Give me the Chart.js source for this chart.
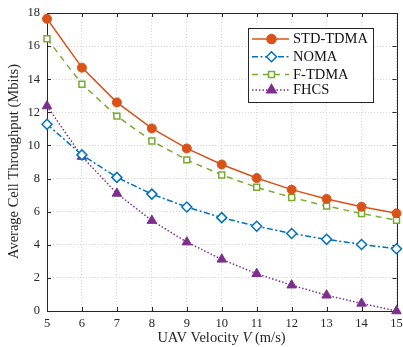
<!DOCTYPE html>
<html>
<head>
<meta charset="utf-8">
<script src="https://cdn.jsdelivr.net/npm/chart.js@4.4.1/dist/chart.umd.min.js"></script>
<style>
  html, body { margin: 0; padding: 0; background: #fff; }
  #wrap { width: 403px; height: 347px; }
</style>
</head>
<body>
<div id="wrap"><canvas id="throughputChart" width="403" height="347"></canvas></div>
<script>
const velocities = [5, 6, 7, 8, 9, 10, 11, 12, 13, 14, 15];
const stdTdma = [17.65, 14.7, 12.6, 11.03, 9.82, 8.85, 8.03, 7.33, 6.77, 6.3, 5.9];
const noma = [11.28, 9.43, 8.07, 7.06, 6.28, 5.64, 5.12, 4.68, 4.33, 4.02, 3.76];
const fTdma = [16.45, 13.7, 11.77, 10.27, 9.13, 8.22, 7.47, 6.86, 6.34, 5.89, 5.48];
const fhcs = [12.38, 9.33, 7.1, 5.46, 4.16, 3.12, 2.25, 1.56, 0.95, 0.46, 0.0];
const xTicks = [5, 6, 7, 8, 9, 10, 11, 12, 13, 14, 15];
const yTicks = [0, 2, 4, 6, 8, 10, 12, 14, 16, 18];

const serif = "'Liberation Serif', 'Times New Roman', serif";
const inkColor = "#262626";

function toPoints(values) {
  return values.map((v, i) => ({ x: velocities[i], y: v }));
}

// box around the axes plus inward tick marks (MATLAB look)
const boxPlugin = {
  id: "boxPlugin",
  beforeDatasetsDraw(chart) {
    const { ctx, chartArea: a, scales } = chart;
    ctx.save();
    ctx.strokeStyle = inkColor;
    ctx.lineWidth = 1;
    ctx.beginPath();
    xTicks.forEach((t) => {
      const px = Math.round(scales.x.getPixelForValue(t)) + 0.5;
      ctx.moveTo(px, a.bottom);
      ctx.lineTo(px, a.bottom - 4);
      ctx.moveTo(px, a.top);
      ctx.lineTo(px, a.top + 4);
    });
    yTicks.forEach((t) => {
      const py = Math.round(scales.y.getPixelForValue(t)) + 0.5;
      ctx.moveTo(a.left, py);
      ctx.lineTo(a.left + 4, py);
      ctx.moveTo(a.right, py);
      ctx.lineTo(a.right - 4, py);
    });
    ctx.stroke();
    ctx.strokeRect(Math.round(a.left) + 0.5, Math.round(a.top) + 0.5,
      Math.round(a.right - a.left), Math.round(a.bottom - a.top));
    ctx.restore();
  },
  afterDraw(chart) {
    const { ctx, chartArea: a } = chart;
    ctx.save();
    ctx.fillStyle = inkColor;

    // y axis title
    ctx.font = "14.5px " + serif;
    ctx.textAlign = "center";
    ctx.textBaseline = "middle";
    ctx.translate(14, 161.5);
    ctx.rotate(-Math.PI / 2);
    ctx.fillText("Average Cell Throughput (Mbits)", 0, 0);
    ctx.setTransform(1, 0, 0, 1, 0, 0);

    // x axis title, with italic V
    const parts = [
      { t: "UAV Velocity ", f: "14.5px " + serif },
      { t: "V", f: "italic 14.5px " + serif },
      { t: " (m/s)", f: "14.5px " + serif },
    ];
    let total = 0;
    parts.forEach((p) => { ctx.font = p.f; p.w = ctx.measureText(p.t).width; total += p.w; });
    let x = 221.5 - total / 2;
    ctx.textAlign = "left";
    ctx.textBaseline = "middle";
    parts.forEach((p) => { ctx.font = p.f; ctx.fillText(p.t, x, 338.5); x += p.w; });

    // legend inside the axes
    const lx = 248, ly = 28, lw = 125, lh = 74;
    ctx.fillStyle = "#fff";
    ctx.fillRect(lx, ly, lw, lh);
    ctx.strokeStyle = inkColor;
    ctx.lineWidth = 1;
    ctx.strokeRect(lx + 0.5, ly + 0.5, lw, lh);
    const rows = [39, 56.7, 74.5, 90];
    chart.data.datasets.forEach((ds, i) => {
      const y = rows[i];
      ctx.strokeStyle = ds.borderColor;
      ctx.lineWidth = ds.borderWidth;
      ctx.setLineDash(ds.borderDash || []);
      ctx.beginPath();
      ctx.moveTo(252, y);
      ctx.lineTo(289, y);
      ctx.stroke();
      ctx.setLineDash([]);
      ctx.fillStyle = ds.pointBackgroundColor;
      ctx.strokeStyle = ds.borderColor;
      Chart.helpers.drawPoint(ctx, {
        pointStyle: ds.pointStyle,
        radius: ds.pointRadius,
        borderWidth: ds.pointBorderWidth,
        rotation: 0,
      }, 271.5, y);
      ctx.fillStyle = "#111";
      ctx.font = "14.5px " + serif;
      ctx.textAlign = "left";
      ctx.textBaseline = "middle";
      ctx.fillText(ds.label, 293, y + 0.5);
    });
    ctx.restore();
  },
};

const ctx = document.getElementById("throughputChart");
new Chart(ctx, {
  type: "line",
  data: {
    datasets: [
      {
        label: "STD-TDMA",
        data: toPoints(stdTdma),
        borderColor: "#D95319",
        pointBackgroundColor: "#D95319",
        pointStyle: "circle",
        pointRadius: 4.5,
        pointBorderWidth: 1,
        borderWidth: 1.5,
        borderDash: [],
      },
      {
        label: "NOMA",
        data: toPoints(noma),
        borderColor: "#0072BD",
        pointBackgroundColor: "#fff",
        pointStyle: "rectRot",
        pointRadius: 5,
        pointBorderWidth: 1.5,
        borderWidth: 1.5,
        borderDash: [6, 2.5, 2, 2.5],
      },
      {
        label: "F-TDMA",
        data: toPoints(fTdma),
        borderColor: "#77AC30",
        pointBackgroundColor: "#fff",
        pointStyle: "rect",
        pointRadius: 4.2,
        pointBorderWidth: 1.5,
        borderWidth: 1.5,
        borderDash: [6, 5],
      },
      {
        label: "FHCS",
        data: toPoints(fhcs),
        borderColor: "#7E2F8E",
        pointBackgroundColor: "#7E2F8E",
        pointStyle: "triangle",
        pointRadius: 5.5,
        pointBorderWidth: 1,
        borderWidth: 1.5,
        borderDash: [1.5, 2],
      },
    ].map((d) => Object.assign(d, {
      backgroundColor: d.pointBackgroundColor,
      pointBorderColor: d.borderColor,
      pointHoverRadius: d.pointRadius,
      tension: 0,
      fill: false,
      clip: false,
    })),
  },
  options: {
    responsive: false,
    animation: false,
    events: [],
    layout: { padding: { top: 13, right: 2, left: 0, bottom: 0 } },
    plugins: {
      legend: { display: false },
      tooltip: { enabled: false },
    },
    scales: {
      x: {
        type: "linear",
        min: 5,
        max: 15,
        afterBuildTicks: (scale) => { scale.ticks = xTicks.map((v) => ({ value: v })); },
        afterFit: (scale) => { scale.height = 36; scale.paddingLeft = 0; scale.paddingRight = 0; },
        grid: { color: "#cfcfcf", lineWidth: 0.8, tickLength: 0, drawTicks: false },
        border: { display: false, dash: [1, 2] },
        ticks: { color: inkColor, font: { family: serif, size: 12.5 }, padding: 5, maxRotation: 0 },
      },
      y: {
        min: 0,
        max: 18,
        afterBuildTicks: (scale) => { scale.ticks = yTicks.map((v) => ({ value: v })); },
        afterFit: (scale) => { scale.width = 47; scale.paddingTop = 0; scale.paddingBottom = 0; },
        grid: { color: "#cfcfcf", lineWidth: 0.8, tickLength: 0, drawTicks: false },
        border: { display: false, dash: [1, 2] },
        ticks: { color: inkColor, font: { family: serif, size: 12.5 }, padding: 7 },
      },
    },
  },
  plugins: [boxPlugin],
});
</script>
</body>
</html>
